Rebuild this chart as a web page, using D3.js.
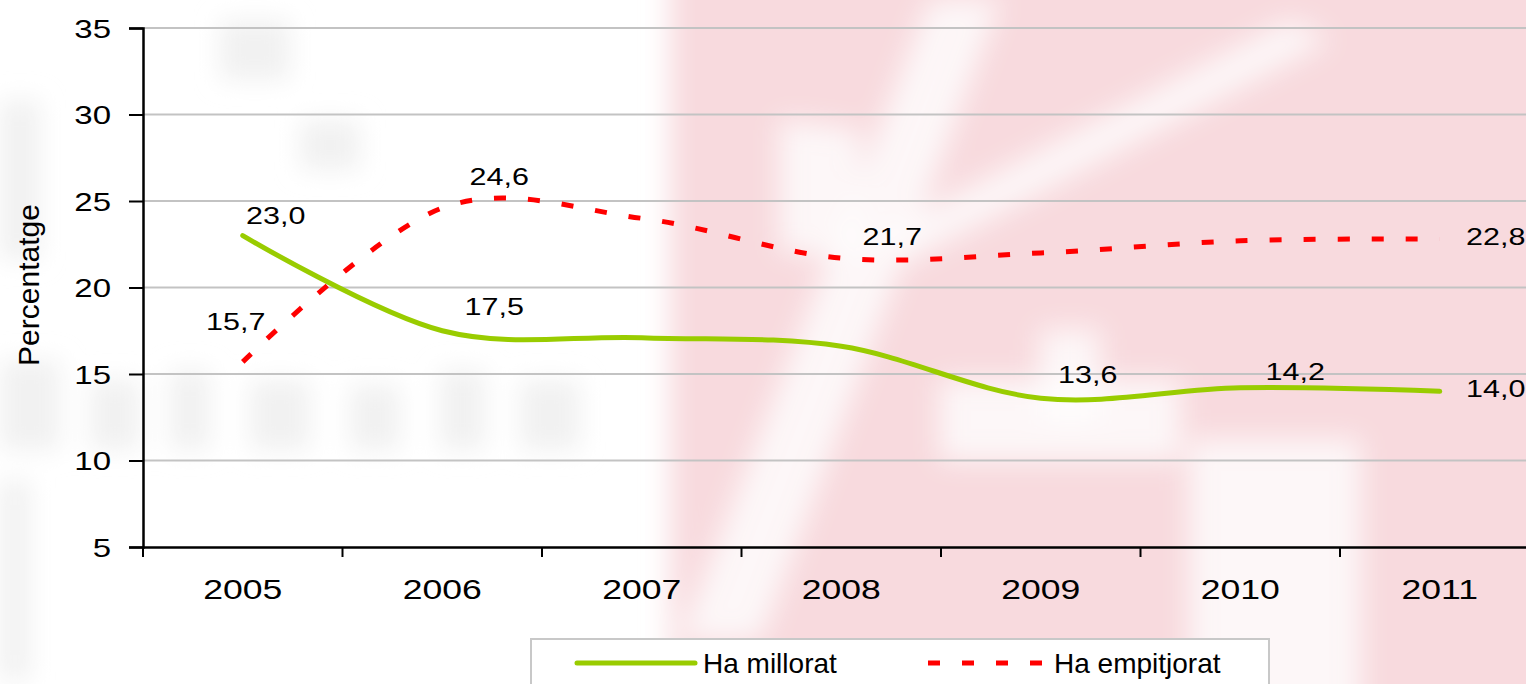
<!DOCTYPE html>
<html>
<head>
<meta charset="utf-8">
<script src="https://cdn.jsdelivr.net/npm/d3@7"></script>
<style>
  body { margin: 0; background: #fff; }
  svg { display: block; }
  text { font-family: "Liberation Sans", Arial, sans-serif; fill: #000; }
</style>
</head>
<body>
<svg id="chart" width="1526" height="684"></svg>
<script>
// Data
var years = ["2005", "2006", "2007", "2008", "2009", "2010", "2011"];
var millorat = [23.0, 17.5, 17.1, 16.6, 13.6, 14.2, 14.0];
var empitjorat = [15.7, 24.6, 24.0, 21.7, 22.0, 22.7, 22.8];
var yTicks = [5, 10, 15, 20, 25, 30, 35];

// which points carry a value label, and where the label sits (dx, dy from the point)
var millLabels = [[0, 33, -12], [1, 52, -16], [4, 47, -15], [5, 55, -8], [6, 56, 6]];
var empLabels = [[0, -7, -32], [1, 57, -23], [3, 51, -13], [6, 56, 6]];

var svg = d3.select("#chart");
var stretch = 1.27; // the original text is drawn a little wide

// --- faded watermark in the background
var defs = svg.append("defs");
defs.append("filter").attr("id", "blur").attr("x", "-20%").attr("y", "-20%").attr("width", "140%").attr("height", "140%")
  .append("feGaussianBlur").attr("stdDeviation", 14);
defs.append("filter").attr("id", "blur2").attr("x", "-20%").attr("y", "-20%").attr("width", "140%").attr("height", "140%")
  .append("feGaussianBlur").attr("stdDeviation", 12);

var bg = svg.append("g");
// faint grey smudges on the left (blurred lettering of the watermark)
var greys = [
  [0, 360, 60, 90], [90, 380, 50, 70], [170, 370, 40, 80], [250, 380, 60, 70],
  [350, 385, 50, 65], [440, 370, 45, 80], [520, 380, 60, 70], [0, 100, 40, 160],
  [220, 20, 70, 60], [300, 120, 60, 50], [0, 480, 30, 200]
];
var gg = bg.append("g").attr("filter", "url(#blur2)");
greys.forEach(function(r) {
  gg.append("rect").attr("x", r[0]).attr("y", r[1]).attr("width", r[2]).attr("height", r[3])
    .style("fill", "#f1f1f1");
});

var wm = bg.append("g").attr("filter", "url(#blur)");
wm.append("rect").attr("x", 670).attr("y", -40).attr("width", 920).attr("height", 780).style("fill", "#f7d3d8").attr("opacity", 0.85);
var whites = [
  [[680, 640], [760, 640], [1000, 0], [930, 0]],
  [[870, 240], [910, 260], [1330, 40], [1290, 20]],
  [[1190, 440], [1360, 440], [1360, 720], [1190, 720]],
  [[1040, 330], [1100, 330], [1100, 420], [1040, 420]],
  [[780, 120], [860, 130], [860, 260], [780, 250]],
  [[940, 380], [1180, 380], [1180, 460], [940, 460]]
];
whites.forEach(function(p) {
  wm.append("polygon").attr("points", p.join(" ")).style("fill", "#fff").attr("opacity", 0.8);
});

// --- scales
var x = d3.scaleBand().domain(years).range([143, 143 + 7 * 199.5]).padding(0);
var y = d3.scaleLinear().domain([5, 35]).range([547, 28]);
var cx = function(i) { return x(years[i]) + x.bandwidth() / 2; };

// gridlines
svg.append("g").selectAll("line")
  .data(yTicks.slice(1))
  .enter().append("line")
  .attr("x1", 143).attr("x2", 1526)
  .attr("y1", function(d) { return y(d); })
  .attr("y2", function(d) { return y(d); })
  .style("stroke", "#c3c3c3").style("stroke-width", 2);

// y axis
var yAxis = svg.append("g")
  .attr("transform", "translate(143,0)")
  .call(d3.axisLeft(y).tickValues(yTicks).tickSize(14).tickPadding(18));
yAxis.select(".domain").style("stroke", "#000").style("stroke-width", 2.5);
yAxis.selectAll(".tick line").style("stroke", "#000").style("stroke-width", 2);
yAxis.selectAll(".tick text")
  .attr("font-size", 26).attr("font-family", null)
  .attr("transform", "translate(-32,0) scale(" + stretch + ",1)")
  .attr("x", 0).attr("dy", "0.36em");

// x axis
var xAxis = svg.append("g")
  .attr("transform", "translate(0,547)")
  .call(d3.axisBottom(x).tickSize(0).tickPadding(0));
xAxis.select(".domain").style("stroke", "#000").style("stroke-width", 2.5);
xAxis.selectAll(".tick text")
  .attr("font-size", 28).attr("font-family", null)
  .attr("y", 0).attr("dy", 0)
  .attr("transform", "translate(0,52) scale(" + stretch + ",1)");
xAxis.selectAll(".boundary")
  .data(d3.range(years.length + 1))
  .enter().append("line")
  .attr("x1", function(i) { return 143 + i * x.step(); })
  .attr("x2", function(i) { return 143 + i * x.step(); })
  .attr("y1", 0).attr("y2", 10)
  .style("stroke", "#000").style("stroke-width", 2);

// axis title
svg.append("text")
  .attr("transform", "translate(39,285) rotate(-90)")
  .attr("text-anchor", "middle")
  .attr("font-size", 30)
  .text("Percentatge");

// lines
var line = d3.line()
  .x(function(d, i) { return cx(i); })
  .y(function(d) { return y(d); })
  .curve(d3.curveCardinal.tension(0));

svg.append("path").datum(millorat)
  .attr("d", line)
  .style("fill", "none").style("stroke", "#99cc00").style("stroke-width", 5)
  .style("stroke-linecap", "round").style("stroke-linejoin", "round");

svg.append("path").datum(empitjorat)
  .attr("d", line)
  .style("fill", "none").style("stroke", "#ff0000").style("stroke-width", 5)
  .style("stroke-dasharray", "12,22");

// value labels
function addLabels(values, spots) {
  svg.append("g").selectAll("text")
    .data(spots)
    .enter().append("text")
    .attr("transform", function(s) {
      return "translate(" + (cx(s[0]) + s[1]) + "," + (y(values[s[0]]) + s[2]) + ") scale(" + stretch + ",1)";
    })
    .attr("text-anchor", "middle")
    .attr("font-size", 24)
    .text(function(s) { return values[s[0]].toFixed(1).replace(".", ","); });
}
addLabels(millorat, millLabels);
addLabels(empitjorat, empLabels);

// legend
var legend = svg.append("g");
legend.append("rect")
  .attr("x", 531).attr("y", 639).attr("width", 738).attr("height", 80)
  .style("fill", "#fff").style("stroke", "#c8c8c8").style("stroke-width", 2);
legend.append("line")
  .attr("x1", 577).attr("x2", 695).attr("y1", 663).attr("y2", 663)
  .style("stroke", "#99cc00").style("stroke-width", 5).style("stroke-linecap", "round");
legend.append("text").attr("x", 703).attr("y", 673).attr("font-size", 28).text("Ha millorat");
legend.append("line")
  .attr("x1", 928).attr("x2", 1045).attr("y1", 663).attr("y2", 663)
  .style("stroke", "#ff0000").style("stroke-width", 5).style("stroke-dasharray", "12,22");
legend.append("text").attr("x", 1054).attr("y", 673).attr("font-size", 28).text("Ha empitjorat");
</script>
</body>
</html>
